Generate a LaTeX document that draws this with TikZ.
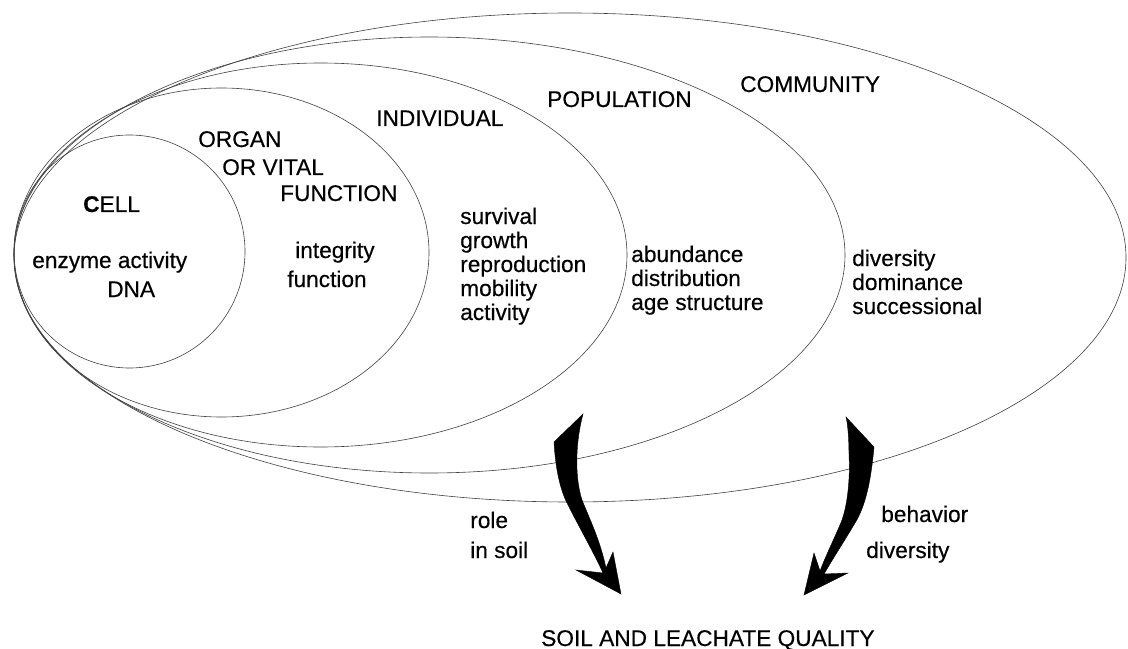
\documentclass[tikz,border=0pt]{standalone}
\usepackage{fontspec}
\setmainfont{Liberation Sans}[FakeBold=0.4]
\tikzset{
  ring/.style={draw=black!75,line width=0.45pt},
  lbl/.style={inner sep=0pt,anchor=base west,align=left,font=\fontsize{17}{18}\selectfont},
  fatarrow/.style={fill=black,draw=black,line width=0.3pt,line join=miter}
}
\begin{document}
\begin{tikzpicture}[x=0.75pt,y=-0.75pt]
  \useasboundingbox (0,0) rectangle (1128,649);

  % Levels of organisation
  \draw[ring] (129.5,251.5) ellipse [x radius=115.5,y radius=116.5];
  \draw[ring] (221.5,252.5) ellipse [x radius=207.5,y radius=164.5];
  \draw[ring] (320.5,255) ellipse [x radius=306.5,y radius=192];
  \draw[ring] (429.5,255) ellipse [x radius=415.5,y radius=218];
  \draw[ring] (570,257.5) ellipse [x radius=556,y radius=244.5];

  % Level names
  \node[lbl] (cell) at (83,212) {{\bfseries C}ELL};
  \node[lbl] (organ) at (198,147) {ORGAN};
  \node[lbl] (vital) at (222,175) {OR VITAL};
  \node[lbl] (func) at (280,201) {FUNCTION};
  \node[lbl] (indiv) at (376,126) {INDIVIDUAL};
  \node[lbl] (popul) at (547,107) {POPULATION};
  \node[lbl] (commun) at (740,92) {COMMUNITY};

  % Endpoints (base = last line)
  \node[lbl] (enzyme) at (32,268) {enzyme activity};
  \node[lbl] (dna) at (107,297) {DNA};
  \node[lbl] (integ) at (295,258) {integrity};
  \node[lbl] (funct) at (287,287) {function};
  \node[lbl] (indivlist) at (460,320)
    {survival\\growth\\reproduction\\mobility\\activity};
  \node[lbl] (poplist) at (631,310) {abundance\\distribution\\age structure};
  \node[lbl] (comlist) at (852,314) {diversity\\dominance\\successional};

  % Arrows down to the soil
  \fill[fatarrow] (583,414) .. controls (576,440) and (574,475) .. (582,500)
    .. controls (590,520) and (600,540) .. (606,568) -- (613,552) -- (621,594)
    -- (576,570) -- (603,573) .. controls (595,555) and (578,525) .. (567,503)
    .. controls (558,485) and (555,460) .. (554,442) -- cycle;
  \fill[fatarrow] (846,417) -- (874,447) .. controls (871,480) and (866,505) .. (855,523)
    .. controls (845,540) and (832,560) .. (824,574) -- (848,573) -- (804,595)
    -- (814,553) -- (820,571) .. controls (826,555) and (836,535) .. (842,520)
    .. controls (849,500) and (850,470) .. (849,457)
    .. controls (849,440) and (848,425) .. (846,417) -- cycle;

  \node[lbl] (role) at (470,528) {role};
  \node[lbl] (insoil) at (470,558) {in soil};
  \node[lbl] (behav) at (881,522) {behavior};
  \node[lbl] (divers) at (866,558) {diversity};
  \node[lbl] (quality) at (541,646) {SOIL AND LEACHATE QUALITY};
\end{tikzpicture}
\end{document}
